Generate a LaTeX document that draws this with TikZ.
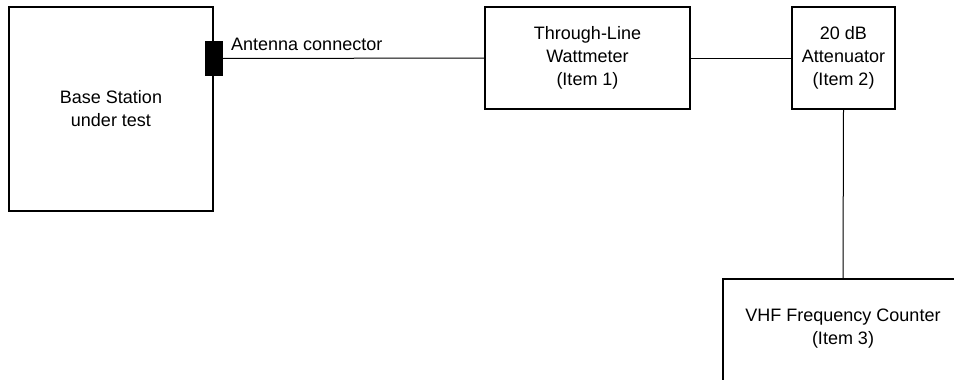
\documentclass[tikz,border=0pt]{standalone}
\usepackage{fontspec}
\setmainfont{Liberation Sans}
\begin{document}
\begin{tikzpicture}[x=1pt,y=-1pt,
  box/.style={draw=black,line width=1.8pt,rectangle,inner sep=0pt,align=center,
    font=\fontsize{18}{23}\selectfont},
  wire/.style={draw=black,line width=1pt},
  lbl/.style={inner sep=0pt,align=center,font=\fontsize{18}{23}\selectfont}]
\clip (0,0) rectangle (954,380);
\fill[white] (0,0) rectangle (954,380);
\node[box,minimum width=204pt,minimum height=204pt] (bs) at (111,109) {Base Station\\under test};
\node[fill=black,draw=none,inner sep=0pt,minimum width=18pt,minimum height=35pt] (conn) at (214,58.5) {};
\node[lbl,anchor=base west] (antlbl) at (231,50) {Antenna connector};
\node[box,minimum width=205pt,minimum height=102pt] (watt) at (587.5,58) {Through-Line\\Wattmeter\\(Item 1)};
\node[box,minimum width=103pt,minimum height=102pt] (att) at (843.5,58) {20 dB\\Attenuator\\(Item 2)};
\node[box,minimum width=240pt,minimum height=180pt] (counter) at (843,369) {};
\node[lbl] (countertext) at (843,329) {VHF Frequency Counter\\(Item 3)};
\draw[wire] (conn.east) -- (watt.west);
\draw[wire] (watt.east) -- (att.west);
\draw[wire] (att.south) -- (counter.north);
\end{tikzpicture}
\end{document}
